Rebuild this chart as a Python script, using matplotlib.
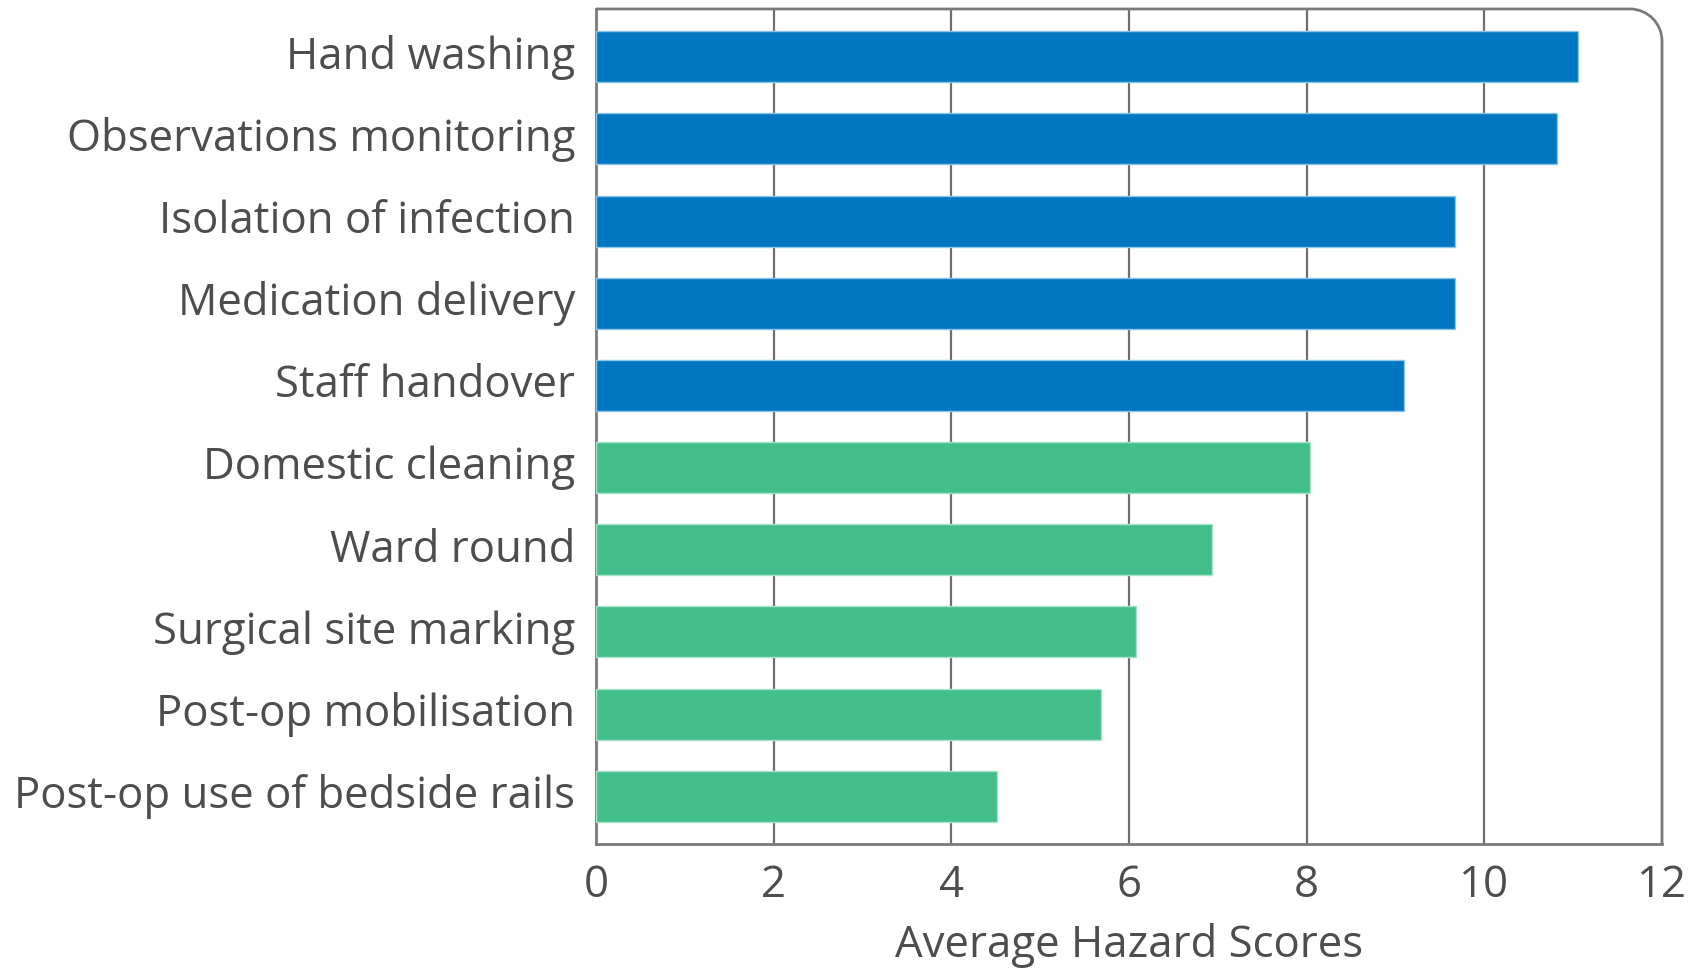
import matplotlib
matplotlib.use("Agg")
import matplotlib.pyplot as plt
import matplotlib.transforms as mtransforms
from matplotlib.path import Path
from matplotlib.patches import PathPatch

categories = ["Hand washing", "Observations monitoring", "Isolation of infection",
              "Medication delivery", "Staff handover", "Domestic cleaning",
              "Ward round", "Surgical site marking", "Post-op mobilisation",
              "Post-op use of bedside rails"]
values = [11.05, 10.82, 9.67, 9.67, 9.1, 8.04, 6.93, 6.08, 5.68, 4.51]
groups = ["high"] * 5 + ["low"] * 5
xticks = [0, 2, 4, 6, 8, 10, 12]
xlabel = "Average Hazard Scores"

palette = {"high": "#0077C0", "low": "#43BD8A"}
edge = {"high": "#8CC4E6", "low": "#A8E2C8"}
text_col = "#4D4D4D"
frame_col = "#7A7A7A"

plt.rcParams['font.family'] = ['Open Sans', 'DejaVu Sans']

fig = plt.figure(figsize=(16.95, 9.68), dpi=100)
ax = fig.add_axes([596/1695, 1-844/968, (1662-596)/1695, (844-9)/968])

ypos = list(range(len(categories)))
for y, v, g in zip(ypos, values, groups):
    ax.barh(y, v, height=0.62, color=palette[g], edgecolor=edge[g], linewidth=1.0, zorder=3)

ax.set_xlim(0, 12)
ax.set_ylim(9.58, -0.58)
ax.set_yticks(ypos)
ax.set_yticklabels(categories, fontsize=31.5, color=text_col)
ax.set_xticks(xticks)
ax.set_xticklabels([str(t) for t in xticks], fontsize=31.5, color=text_col)
ax.tick_params(axis='y', length=0, pad=15)
ax.tick_params(axis='x', length=0, pad=14)
ax.set_xlabel(xlabel, fontsize=31.5, color=text_col, labelpad=11)

offset = mtransforms.ScaledTranslation(0, 5/100, fig.dpi_scale_trans)
for lab in ax.get_yticklabels():
    lab.set_transform(lab.get_transform() + offset)

for t in xticks[1:-1]:
    ax.axvline(t, color="#6E6E6E", linewidth=1.6, zorder=1)

for s in ["top", "right"]:
    ax.spines[s].set_visible(False)
for s in ["left", "bottom"]:
    ax.spines[s].set_color(frame_col)
    ax.spines[s].set_linewidth(2.0)

# rounded top-right frame
rx = 32/1066
ry = 32/835
k = 0.5523
verts = [(0, 1), (1 - rx, 1),
         (1 - rx + k*rx, 1), (1, 1 - ry + k*ry), (1, 1 - ry),
         (1, 0)]
codes = [Path.MOVETO, Path.LINETO, Path.CURVE4, Path.CURVE4, Path.CURVE4, Path.LINETO]
patch = PathPatch(Path(verts, codes), transform=ax.transAxes, facecolor='none',
                  edgecolor=frame_col, linewidth=2.0, clip_on=False, zorder=5)
ax.add_patch(patch)

fig.savefig("out.png", dpi=100)
